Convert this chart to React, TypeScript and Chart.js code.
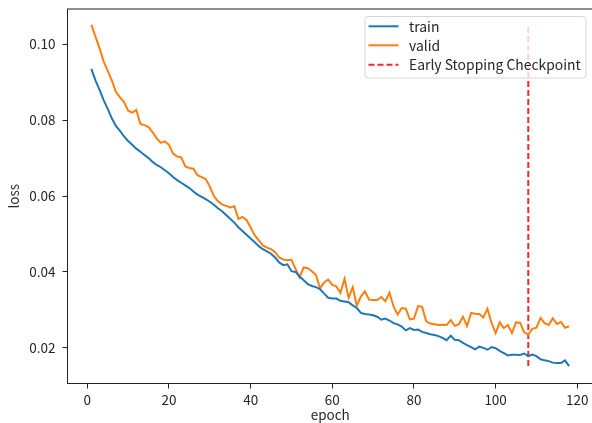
import React, { useEffect, useRef } from "react";
import { Chart, registerables } from "chart.js";

Chart.register(...registerables);

const trainLoss = [
  0.0935, 0.0905, 0.0880, 0.0853, 0.0830, 0.0805, 0.0785, 0.0772, 0.0757, 0.0745,
  0.0735, 0.0725, 0.0717, 0.0708, 0.0700, 0.0690, 0.0682, 0.0676, 0.0668, 0.0660,
  0.0650, 0.0642, 0.0635, 0.0628, 0.0621, 0.0612, 0.0604, 0.0598, 0.0592, 0.0585,
  0.0577, 0.0568, 0.0560, 0.0550, 0.0540, 0.0530, 0.0518, 0.0508, 0.0498, 0.0488,
  0.0478, 0.0468, 0.0460, 0.0454, 0.0448, 0.0438, 0.0425, 0.0418, 0.0420, 0.0402,
  0.0400, 0.0388, 0.0378, 0.0368, 0.0363, 0.0360, 0.0355, 0.0343, 0.0332, 0.0330,
  0.0330, 0.0324, 0.0322, 0.0320, 0.0312, 0.0305, 0.0292, 0.0289, 0.0288, 0.0286,
  0.0282, 0.0274, 0.0277, 0.0272, 0.0265, 0.0262, 0.0256, 0.0246, 0.0252, 0.0247,
  0.0248, 0.0242, 0.0239, 0.0236, 0.0234, 0.0231, 0.0226, 0.0220, 0.0232, 0.0221,
  0.0220, 0.0213, 0.0207, 0.0202, 0.0196, 0.0203, 0.0200, 0.0195, 0.0202, 0.0199,
  0.0192, 0.0186, 0.0180, 0.0182, 0.0182, 0.0181, 0.0185, 0.0178, 0.0182, 0.0178,
  0.0170, 0.0167, 0.0165, 0.0161, 0.0160, 0.0160, 0.0167, 0.0152,
];

const validLoss = [
  0.1051, 0.1020, 0.0990, 0.0955, 0.0930, 0.0905, 0.0875, 0.0860, 0.0848, 0.0825,
  0.0820, 0.0827, 0.0790, 0.0787, 0.0782, 0.0768, 0.0752, 0.0740, 0.0744, 0.0735,
  0.0712, 0.0704, 0.0702, 0.0678, 0.0674, 0.0672, 0.0655, 0.0650, 0.0645, 0.0625,
  0.0600, 0.0586, 0.0578, 0.0574, 0.0570, 0.0573, 0.0540, 0.0545, 0.0537, 0.0517,
  0.0497, 0.0483, 0.0470, 0.0464, 0.0460, 0.0452, 0.0438, 0.0433, 0.0431, 0.0432,
  0.0408, 0.0386, 0.0412, 0.0410, 0.0402, 0.0392, 0.0357, 0.0372, 0.0380, 0.0366,
  0.0362, 0.0345, 0.0382, 0.0332, 0.0360, 0.0311, 0.0335, 0.0349, 0.0327, 0.0326,
  0.0326, 0.0334, 0.0323, 0.0345, 0.0309, 0.0288, 0.0305, 0.0303, 0.0275, 0.0277,
  0.0310, 0.0308, 0.0270, 0.0264, 0.0262, 0.0260, 0.0261, 0.0260, 0.0273, 0.0258,
  0.0262, 0.0282, 0.0257, 0.0292, 0.0290, 0.0289, 0.0280, 0.0303, 0.0266, 0.0239,
  0.0267, 0.0252, 0.0260, 0.0239, 0.0267, 0.0266, 0.0241, 0.0235, 0.0250, 0.0253,
  0.0279, 0.0265, 0.0260, 0.0278, 0.0263, 0.0268, 0.0253, 0.0257,
];

const epochs = trainLoss.map((_, i) => i + 1);
const earlyStopEpoch = 108;
const xTicks = [0, 20, 40, 60, 80, 100, 120];
const yTicks = [0.02, 0.04, 0.06, 0.08, 0.1];
const seriesLabels = ["train", "valid", "Early Stopping Checkpoint"];
const seriesColors = ["#1f77b4", "#ff7f0e", "rgba(255,0,0,0.85)"];

const FONT = "'Noto Sans CJK JP', 'Noto Sans', sans-serif";
const TEXT = "#262626";

const framePlugin = {
  id: "frame",
  afterDatasetsDraw(chart: any) {
    const { ctx, chartArea: a } = chart;
    ctx.save();
    ctx.strokeStyle = "#222";
    ctx.lineWidth = 1;
    ctx.strokeRect(a.left, a.top, a.right - a.left, a.bottom - a.top);
    ctx.restore();

    // legend (matplotlib style, inside plot at upper right)
    const bx = 365, by = 16.5, bw = 221, bh = 61.5, r = 3;
    ctx.save();
    ctx.beginPath();
    ctx.moveTo(bx + r, by);
    ctx.lineTo(bx + bw - r, by);
    ctx.quadraticCurveTo(bx + bw, by, bx + bw, by + r);
    ctx.lineTo(bx + bw, by + bh - r);
    ctx.quadraticCurveTo(bx + bw, by + bh, bx + bw - r, by + bh);
    ctx.lineTo(bx + r, by + bh);
    ctx.quadraticCurveTo(bx, by + bh, bx, by + bh - r);
    ctx.lineTo(bx, by + r);
    ctx.quadraticCurveTo(bx, by, bx + r, by);
    ctx.closePath();
    ctx.fillStyle = "rgba(255,255,255,0.8)";
    ctx.fill();
    ctx.strokeStyle = "rgba(204,204,204,0.8)";
    ctx.lineWidth = 1;
    ctx.stroke();
    const rows = [26.3, 45.3, 64.7];
    chart.data.datasets.forEach((ds: any, i: number) => {
      const y = rows[i];
      ctx.beginPath();
      ctx.setLineDash(ds.borderDash || []);
      ctx.strokeStyle = ds.borderColor;
      ctx.lineWidth = 2;
      ctx.moveTo(368.5, y);
      ctx.lineTo(398.5, y);
      ctx.stroke();
      ctx.setLineDash([]);
      ctx.fillStyle = TEXT;
      ctx.font = `13.9px ${FONT}`;
      ctx.textBaseline = "middle";
      ctx.textAlign = "left";
      ctx.fillText(ds.label, 409, y);
    });
    ctx.restore();
  },
};

export default function App() {
  const ref = useRef<HTMLCanvasElement>(null);
  useEffect(() => {
    if (!ref.current) return;
    const trainMin = Math.min(...trainLoss);
    const validMax = Math.max(...validLoss);
    const chart = new Chart(ref.current, {
      type: "line",
      data: {
        datasets: [
          {
            label: seriesLabels[0],
            data: epochs.map((e, i) => ({ x: e, y: trainLoss[i] })),
            borderColor: seriesColors[0],
            borderWidth: 2,
            pointRadius: 0,
            tension: 0,
          },
          {
            label: seriesLabels[1],
            data: epochs.map((e, i) => ({ x: e, y: validLoss[i] })),
            borderColor: seriesColors[1],
            borderWidth: 2,
            pointRadius: 0,
            tension: 0,
          },
          {
            label: seriesLabels[2],
            data: [
              { x: earlyStopEpoch, y: trainMin },
              { x: earlyStopEpoch, y: validMax },
            ],
            borderColor: seriesColors[2],
            borderWidth: 2,
            borderDash: [6, 3],
            pointRadius: 0,
          },
        ],
      },
      options: {
        responsive: false,
        animation: false,
        events: [],
        layout: { padding: { top: 9, right: 2, left: 0, bottom: 0 } },
        plugins: { legend: { display: false }, tooltip: { enabled: false } },
        scales: {
          x: {
            type: "linear",
            min: -4.85,
            max: 123.85,
            afterFit: (s: any) => { s.height = 39.5; s.paddingLeft = 0; s.paddingRight = 0; },
            afterBuildTicks: (s: any) => { s.ticks = xTicks.map((v) => ({ value: v })); },
            ticks: { font: { family: FONT, size: 13.5 }, color: TEXT, padding: 3, maxRotation: 0 },
            grid: { display: true, drawOnChartArea: false, drawTicks: true, tickLength: 5, color: "#222" },
            border: { display: false },
            title: { display: true, text: "epoch", font: { family: FONT, size: 13.5 }, color: TEXT, padding: { top: 0, bottom: 0 } },
          },
          y: {
            type: "linear",
            min: 0.0106,
            max: 0.1093,
            afterFit: (s: any) => { s.width = 67.5; s.paddingTop = 0; s.paddingBottom = 0; },
            afterBuildTicks: (s: any) => { s.ticks = yTicks.map((v) => ({ value: v })); },
            ticks: {
              font: { family: FONT, size: 13.5 },
              color: TEXT,
              padding: 7,
              callback: (v: any) => Number(v).toFixed(2),
            },
            grid: { display: true, drawOnChartArea: false, drawTicks: true, tickLength: 5, color: "#222" },
            border: { display: false },
            title: { display: true, text: "loss", font: { family: FONT, size: 13.5 }, color: TEXT, padding: { top: 6, bottom: 0 } },
          },
        },
      },
      plugins: [framePlugin],
    });
    return () => chart.destroy();
  }, []);
  return (
    <div style={{ position: "absolute", left: 0, top: 0, width: 592, height: 423, overflow: "hidden", background: "#fff" }}>
      <canvas ref={ref} width={595} height={423} style={{ width: 595, height: 423, display: "block" }} />
    </div>
  );
}
